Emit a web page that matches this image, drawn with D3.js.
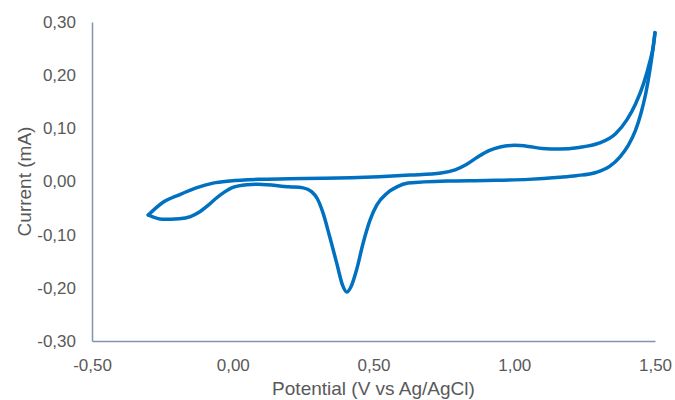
<!DOCTYPE html>
<html>
<head>
<meta charset="utf-8">
<script src="https://cdn.jsdelivr.net/npm/d3@7"></script>
<style>
    body { margin: 0; background: #fff; }
    svg { display: block; }
</style>
</head>
<body>
<div id="chart"></div>
<script>
// forward scan: -0.30 V -> 1.50 V (upper branch)
const forwardPotential = [-0.30, -0.25, -0.19, -0.13, -0.07, -0.01, 0.09, 0.20, 0.32, 0.42, 0.52, 0.63, 0.74, 0.79, 0.83, 0.87, 0.91, 0.95, 1.00, 1.05, 1.10, 1.16, 1.23, 1.30, 1.36, 1.40, 1.43, 1.46, 1.48, 1.495, 1.50];
const forwardCurrent = [-0.063, -0.040, -0.025, -0.012, -0.003, 0.001, 0.004, 0.005, 0.006, 0.007, 0.009, 0.012, 0.016, 0.022, 0.032, 0.046, 0.058, 0.065, 0.068, 0.066, 0.062, 0.061, 0.064, 0.072, 0.090, 0.116, 0.145, 0.185, 0.222, 0.258, 0.280];

// reverse scan: 1.50 V -> -0.30 V (lower branch)
const reversePotential = [1.50, 1.493, 1.482, 1.467, 1.45, 1.43, 1.405, 1.375, 1.34, 1.29, 1.22, 1.16, 1.05, 0.90, 0.76, 0.623, 0.583, 0.548, 0.512, 0.488, 0.463, 0.44, 0.42, 0.405, 0.39, 0.37, 0.345, 0.32, 0.30, 0.28, 0.25, 0.20, 0.09, 0.05, 0.00, -0.03, -0.06, -0.09, -0.12, -0.15, -0.19, -0.25, -0.30];
const reverseCurrent = [0.280, 0.250, 0.210, 0.165, 0.128, 0.095, 0.068, 0.046, 0.029, 0.017, 0.011, 0.008, 0.004, 0.002, 0.001, -0.003, -0.010, -0.022, -0.044, -0.072, -0.116, -0.166, -0.198, -0.208, -0.195, -0.155, -0.105, -0.058, -0.032, -0.019, -0.012, -0.010, -0.005, -0.006, -0.011, -0.020, -0.032, -0.046, -0.058, -0.066, -0.070, -0.071, -0.063];

const xTicks = [-0.5, 0, 0.5, 1.0, 1.5];
const yTicks = [-0.3, -0.2, -0.1, 0, 0.1, 0.2, 0.3];
const xTitle = 'Potential (V vs Ag/AgCl)';
const yTitle = 'Current (mA)';

const width = 675, height = 400;
const margin = { top: 22, right: 20, bottom: 59, left: 92 };

const fmt = v => v.toFixed(2).replace('.', ',');

const svg = d3.select('#chart').append('svg')
    .attr('width', width)
    .attr('height', height)
    .style('font-family', '"Liberation Sans", Arial, sans-serif');

const x = d3.scaleLinear().domain([-0.5, 1.5]).range([margin.left, width - margin.right]);
const y = d3.scaleLinear().domain([-0.3, 0.3]).range([height - margin.bottom, margin.top]);

const axisColor = '#8393aa';
const textColor = '#595959';

const xAxis = svg.append('g')
    .attr('transform', `translate(0,${y(-0.3)})`)
    .call(d3.axisBottom(x).tickValues(xTicks).tickFormat(fmt).tickSize(0).tickPadding(18));

const yAxis = svg.append('g')
    .attr('transform', `translate(${x(-0.5)},0)`)
    .call(d3.axisLeft(y).tickValues(yTicks).tickFormat(fmt).tickSize(0).tickPadding(16));

[xAxis, yAxis].forEach(g => {
    g.select('.domain').attr('stroke', axisColor).attr('stroke-width', 1.5);
    g.selectAll('text').attr('fill', textColor).style('font-size', '17px');
});

// each branch drawn left-to-right so monotoneX stays smooth
const forward = forwardPotential.map((p, i) => [p, forwardCurrent[i]]);
const reverse = reversePotential.map((p, i) => [p, reverseCurrent[i]]).reverse();

const line = d3.line()
    .x(d => x(d[0]))
    .y(d => y(d[1]))
    .curve(d3.curveMonotoneX);

svg.selectAll('path.cv')
    .data([forward, reverse])
    .join('path')
    .attr('class', 'cv')
    .attr('fill', 'none')
    .attr('stroke', '#0070c0')
    .attr('stroke-width', 3.5)
    .attr('stroke-linejoin', 'round')
    .attr('stroke-linecap', 'round')
    .attr('d', line);

svg.append('text')
    .attr('x', (x(-0.5) + x(1.5)) / 2)
    .attr('y', 395)
    .attr('text-anchor', 'middle')
    .attr('fill', textColor)
    .style('font-size', '19px')
    .text(xTitle);

svg.append('text')
    .attr('transform', `translate(31,${(y(0.3) + y(-0.3)) / 2}) rotate(-90)`)
    .attr('text-anchor', 'middle')
    .attr('fill', textColor)
    .style('font-size', '19px')
    .text(yTitle);
</script>
</body>
</html>
